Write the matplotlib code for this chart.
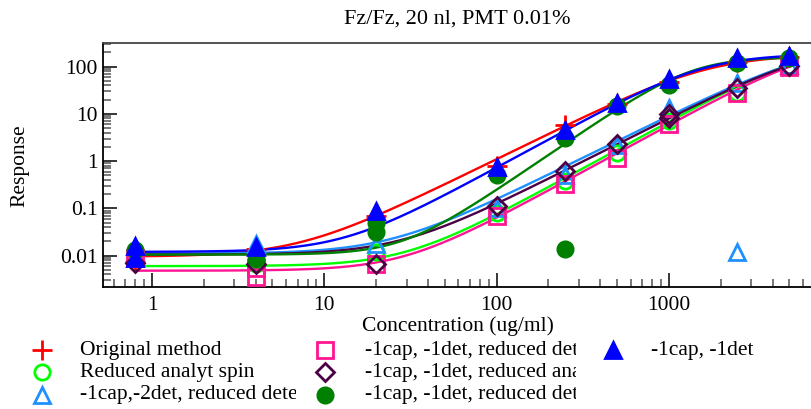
import numpy as np
import matplotlib
matplotlib.use('Agg')
import matplotlib.pyplot as plt
from matplotlib.lines import Line2D
from matplotlib.transforms import Bbox, TransformedBbox

plt.rcParams['font.family'] = ['Liberation Serif', 'DejaVu Serif']

TITLE = 'Fz/Fz, 20 nl, PMT 0.01%'
LABELS = [
    'Original method',
    'Reduced analyt spin',
    '-1cap,-2det, reduced detection',
    '-1cap, -1det, reduced detection',
    '-1cap, -1det, reduced analyt spin',
    '-1cap, -1det, reduced detection time',
    '-1cap, -1det',
]
COLORS = ['#ff0000', '#00ff00', '#1e90ff', '#ff1493', '#4b0045', '#008000', '#0000ff']
MARKERS = ['+', 'o', '^', 's', 'D', 'o', '^']
FILLED = [True, False, False, False, False, True, True]
SIZES = [14, 11, 11, 11.5, 9.5, 11, 11]

# measured points (replicates / excluded points repeat a concentration)
X_ORIG = [0.8, 4, 20, 100, 250, 500, 1000, 2500, 5000]
Y_ORIG = [0.0075, 0.014, 0.07, 0.8, 5.8, 16, 48, 125, 160]
X_SPIN = [0.8, 4, 20, 100, 250, 500, 1000, 2500, 5000]
Y_SPIN = [0.009, 0.0065, 0.012, 0.08, 0.38, 1.5, 7, 28, 100]
X_2DET = [0.8, 4, 20, 100, 250, 500, 1000, 2500, 2500, 5000]
Y_2DET = [0.012, 0.0175, 0.018, 0.1, 0.5, 2.2, 13, 45, 0.012, 110]
X_DET = [0.8, 4, 4, 20, 100, 250, 500, 1000, 2500, 5000]
Y_DET = [0.009, 0.0055, 0.0035, 0.0065, 0.068, 0.33, 1.15, 6.2, 27, 100]
X_ANA = [0.8, 4, 20, 100, 250, 500, 1000, 1000, 2500, 5000]
Y_ANA = [0.007, 0.0068, 0.0065, 0.115, 0.62, 2.3, 10, 8, 35, 105]
X_TIME = [0.8, 4, 20, 20, 100, 250, 250, 500, 1000, 2500, 5000]
Y_TIME = [0.013, 0.0085, 0.05, 0.032, 0.5, 3.1, 0.0135, 15, 40, 118, 150]
X_1DET = [0.8, 0.8, 4, 20, 100, 250, 500, 1000, 2500, 5000]
Y_1DET = [0.016, 0.009, 0.015, 0.088, 0.76, 4.5, 17, 56, 150, 165]

# 4PL fit parameters: bottom, top, EC50, Hill slope
FIT_ORIG = (0.0095, 180, 1700, 1.8)
FIT_SPIN = (0.006, 300, 6566, 2.0)
FIT_2DET = (0.011, 300, 6900, 1.8)
FIT_DET = (0.0048, 300, 7120, 2.0)
FIT_ANA = (0.0105, 300, 7000, 1.85)
FIT_TIME = (0.0105, 160, 1350, 2.5)
FIT_1DET = (0.012, 185, 1600, 2.0)

SERIES = [
    (X_ORIG, Y_ORIG, FIT_ORIG), (X_SPIN, Y_SPIN, FIT_SPIN), (X_2DET, Y_2DET, FIT_2DET),
    (X_DET, Y_DET, FIT_DET), (X_ANA, Y_ANA, FIT_ANA), (X_TIME, Y_TIME, FIT_TIME),
    (X_1DET, Y_1DET, FIT_1DET),
]


def four_pl(x, bottom, top, ec50, hill):
    return top + (bottom - top) / (1 + (x / ec50) ** hill)


def marker_style(i):
    style = dict(marker=MARKERS[i], markersize=SIZES[i], color=COLORS[i],
                 markeredgecolor=COLORS[i], markeredgewidth=2, linestyle='none')
    style['markerfacecolor'] = COLORS[i] if FILLED[i] else 'none'
    return style


fig = plt.figure(figsize=(8.12, 4.09), dpi=100)
ax = fig.add_axes([0.1268, 0.2976, 0.8732, 0.5966])
ax.set_xscale('log')
ax.set_yscale('log')
ax.set_xlim(0.519, 6770)
ax.set_ylim(0.00214, 312)

grid = np.logspace(np.log10(0.8), np.log10(5000), 400)
for i, (xs, ys, fit) in enumerate(SERIES):
    ax.plot(grid, four_pl(grid, *fit), color=COLORS[i], linewidth=1.7, zorder=2)
for i, (xs, ys, fit) in enumerate(SERIES):
    ax.plot(xs, ys, zorder=3, clip_on=False, **marker_style(i))

ax.spines['right'].set_visible(False)
for side in ('top', 'left', 'bottom'):
    ax.spines[side].set_linewidth(1.3)
ax.spines['top'].set_color('#444444')
ax.tick_params(which='both', direction='in', top=False, right=False, labelsize=15.5,
               width=1.1)
ax.tick_params(which='major', length=10)
ax.tick_params(which='minor', length=6, color='#555555')
ax.set_xticks([1, 10, 100, 1000])
ax.set_xticklabels(['1', '10', '100', '1000'])
ax.set_yticks([0.01, 0.1, 1, 10, 100])
ax.set_yticklabels(['0.01', '0.1', '1', '10', '100'])
ax.tick_params(axis='x', pad=6)
ax.tick_params(axis='y', pad=4)

ax.set_title(TITLE, fontsize=16, pad=14)
ax.set_ylabel('Response', fontsize=15.5, labelpad=22)
ax.set_xlabel('Concentration (ug/ml)', fontsize=15.5, labelpad=1)

# legend: three columns, text clipped at the column edge
W, H = 812.0, 409.0
col_marker = [42, 325, 613]
col_text = [80, 365, 651]
col_clip = [296, 576, 812]
rows = [350, 372, 395]
for i, label in enumerate(LABELS):
    col, row = divmod(i, 3)
    fx, fy = col_marker[col] / W, 1 - rows[row] / H
    fig.add_artist(Line2D([fx], [fy], transform=fig.transFigure, **marker_style(i)))
    t = fig.text(col_text[col] / W, fy, label, fontsize=15.5, va='center', ha='left')
    clip = Bbox.from_extents(col_text[col] / W - 0.01, 0, col_clip[col] / W, 1)
    t.set_clip_box(TransformedBbox(clip, fig.transFigure))
    t.set_clip_on(True)

fig.savefig('out.png', dpi=100)
